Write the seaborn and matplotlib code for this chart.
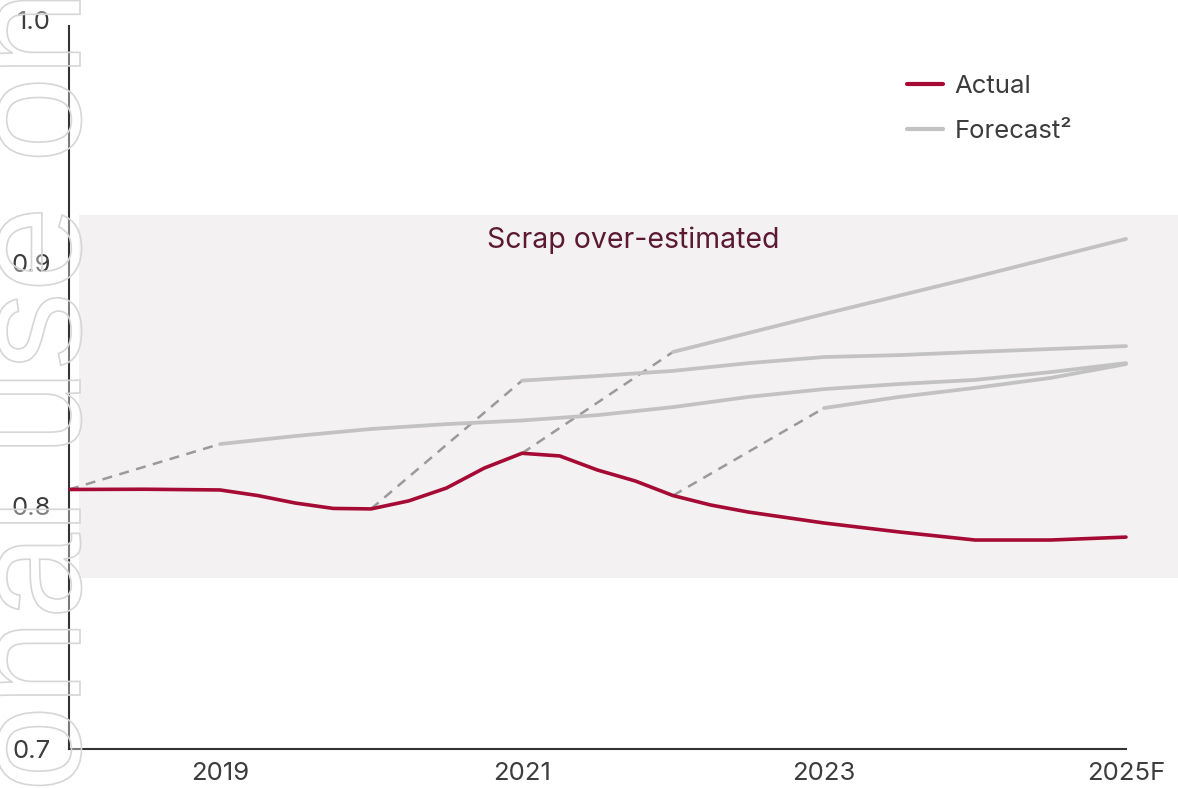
import numpy as np
import pandas as pd
import seaborn as sns
from matplotlib import pyplot as plt
from matplotlib.lines import Line2D
from matplotlib.patches import PathPatch
from matplotlib.textpath import TextPath
from matplotlib.font_manager import FontProperties
from matplotlib.transforms import Affine2D, IdentityTransform

# values (quarter / half-year steps where the curves bend)
actual_years = [2018, 2018.5, 2019, 2019.25, 2019.5, 2019.75, 2020, 2020.25, 2020.5,
                2020.75, 2021, 2021.25, 2021.5, 2021.75, 2022, 2022.25, 2022.5,
                2023, 2023.5, 2024, 2024.5, 2025]
actual_vals = [0.8068, 0.8069, 0.8066, 0.8043, 0.8012, 0.7990, 0.7988, 0.8021, 0.8074,
               0.8156, 0.8217, 0.8206, 0.8148, 0.8103, 0.8043, 0.8004, 0.7975,
               0.7930, 0.7893, 0.7860, 0.7860, 0.7872]

fc2018_years = [2019, 2019.5, 2020, 2020.5, 2021, 2021.5, 2022, 2022.5,
                2023, 2023.5, 2024, 2024.5, 2025]
fc2018_vals = [0.8255, 0.8288, 0.8317, 0.8337, 0.8352, 0.8374, 0.8407, 0.8449,
               0.8481, 0.8502, 0.8519, 0.8551, 0.8588]

fc2020_years = [2021, 2021.5, 2022, 2022.5, 2023, 2023.5, 2024, 2024.5, 2025]
fc2020_vals = [0.8516, 0.8535, 0.8556, 0.8588, 0.8613, 0.8621, 0.8634, 0.8646, 0.8658]

fc2021_years = [2022, 2023, 2024, 2025]
fc2021_vals = [0.8634, 0.8790, 0.8942, 0.9099]

fc2022_years = [2023, 2023.5, 2024, 2024.5, 2025]
fc2022_vals = [0.8403, 0.8449, 0.8486, 0.8527, 0.8584]

# forecast made in year -> (years, values)
forecasts = {2018: (fc2018_years, fc2018_vals),
             2020: (fc2020_years, fc2020_vals),
             2021: (fc2021_years, fc2021_vals),
             2022: (fc2022_years, fc2022_vals)}

band_low, band_high = 0.7704, 0.9198
xtick_pos = [2019, 2021, 2023, 2025]
xtick_labels = ['2019', '2021', '2023', '2025F']
ytick_pos = [0.7, 0.8, 0.9, 1.0]
ytick_labels = ['0.7', '0.8', '0.9', '1.0']

RED = '#a50b34'
GREY = '#c2c2c2'
DASH = '#9a9a9a'
TXT = '#3c3c3c'

sns.set_style('white')
plt.rcParams['font.family'] = ['Inter', 'DejaVu Sans']

W, H = 1178, 788
fig = plt.figure(figsize=(W / 100, H / 100), dpi=100)
ax = fig.add_axes([69 / W, 39 / H, 1 - 69 / W, 729 / H])
xmax = 2018 + (W - 69) / 151
ax.set_xlim(2018, xmax)
ax.set_ylim(0.7, 1.0)

# shaded region
ax.fill_between([2018.066, xmax], band_low, band_high, color='#f3f1f2', lw=0, zorder=0)
ax.text(2021.735, 0.9095, 'Scrap over-estimated', ha='center', va='center',
        fontsize=20.5, color='#5b1a32')

actual = pd.Series(actual_vals, index=actual_years)
for start, (yrs, vals) in forecasts.items():
    # dashed link from the actual value to the first forecast point
    sns.lineplot(x=[start, yrs[0]], y=[actual[start], vals[0]], ax=ax, color=DASH,
                 lw=1.8, linestyle=(0, (4, 3)), zorder=2)
    sns.lineplot(x=yrs, y=vals, ax=ax, color=GREY, lw=2.7, zorder=3,
                 solid_capstyle='round', solid_joinstyle='round')

sns.lineplot(x=actual_years, y=actual_vals, ax=ax, color=RED, lw=2.6, zorder=4,
             solid_capstyle='round', solid_joinstyle='round')

sns.despine(ax=ax)
for s in ['left', 'bottom']:
    ax.spines[s].set_color('#333333')
    ax.spines[s].set_linewidth(1.5)
ax.spines['bottom'].set_bounds(2018, 2025)
ax.spines['left'].set_bounds(0.7, 0.9975)

ax.set_xticks(xtick_pos, xtick_labels)
ax.set_yticks(ytick_pos, ytick_labels)
ax.tick_params(axis='x', length=0, labelsize=18.5, colors=TXT, pad=9)
ax.tick_params(axis='y', length=0, labelsize=18.5, colors=TXT, pad=13)
ax.set_xlabel('')
ax.set_ylabel('')

handles = [Line2D([], [], color=RED, lw=3), Line2D([], [], color=GREY, lw=3)]
ax.legend(handles, ['Actual', 'Forecast²'], loc='upper left', bbox_to_anchor=(0.7556, 0.925),
          frameon=False, fontsize=18.5, handlelength=1.4, handletextpad=0.45,
          labelspacing=0.85, borderaxespad=0, borderpad=0, labelcolor=TXT)

# outlined watermark on the left edge
tp = TextPath((0, 0), 'onal use only', size=155, prop=FontProperties(family='Liberation Sans'))
tr = Affine2D().rotate_deg(90).translate(80, -4)
wm = PathPatch(tr.transform_path(tp), facecolor=(1, 1, 1, 0.35), edgecolor='#d6d6d6',
               lw=1.2, transform=IdentityTransform(), zorder=10)
fig.add_artist(wm)

fig.savefig('out.png', dpi=100)
